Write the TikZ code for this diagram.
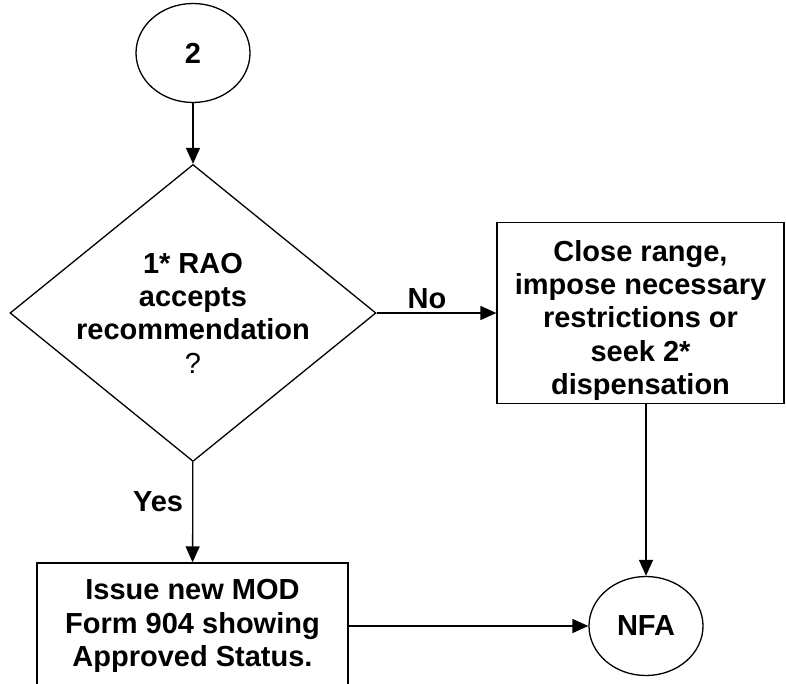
\documentclass[tikz,border=0pt]{standalone}
\usepackage{fontspec}
\setmainfont{Liberation Sans}
\usepackage{tikz}
\usetikzlibrary{shapes.geometric, arrows.meta}
\newcommand{\chartfont}{\fontsize{29}{33.3}\selectfont\bfseries}
\tikzstyle{connector} = [ellipse, minimum width=114pt, minimum height=99pt, inner sep=0pt, draw=black, line width=1.3pt, font=\chartfont]
\tikzstyle{decision} = [diamond, minimum width=366pt, minimum height=297pt, inner sep=0pt, draw=black, line width=1.3pt]
\tikzstyle{process} = [rectangle, inner sep=0pt, text centered, align=center, draw=black, line width=1.3pt, font=\chartfont]
\tikzstyle{answer} = [font=\chartfont, inner sep=4pt]
\tikzstyle{arrow} = [line width=1.3pt, -{Triangle[length=16pt, width=14pt]}]

\begin{document}
\begin{tikzpicture}[x=1pt, y=-1pt]
\useasboundingbox (0,0) rectangle (786,684);
\clip (0,0) rectangle (786,684);

% Nodes
\node (start) [connector] at (193,53) {2};
\node (decision) [decision] at (193,313) {};
\node (question) [align=center, font=\chartfont] at (decision.center) {1* RAO\\accepts\\recommendation\\{\mdseries ?}};
\node (restrict) [process, minimum width=287pt, minimum height=181pt] at (640.5,313) {\rule{0pt}{36pt}Close range,\\impose necessary\\restrictions or\\seek 2*\\dispensation};
\node (issue) [process, minimum width=311pt, minimum height=126pt] at (192.5,626) {Issue new MOD\\Form 904 showing\\Approved Status.};
\node (nfa) [connector] at (646,626) {NFA};

% Arrows
\draw [arrow] (start) -- (decision);
\draw [arrow] (decision) -- node[answer, above, pos=0.42] {No} (restrict);
\draw [arrow] (decision) -- node[answer, left, pos=0.4, inner xsep=9pt] {Yes} (issue);
\draw [arrow] (nfa.north |- restrict.south) -- (nfa.north);
\draw [arrow] (issue) -- (nfa);

\end{tikzpicture}
\end{document}
